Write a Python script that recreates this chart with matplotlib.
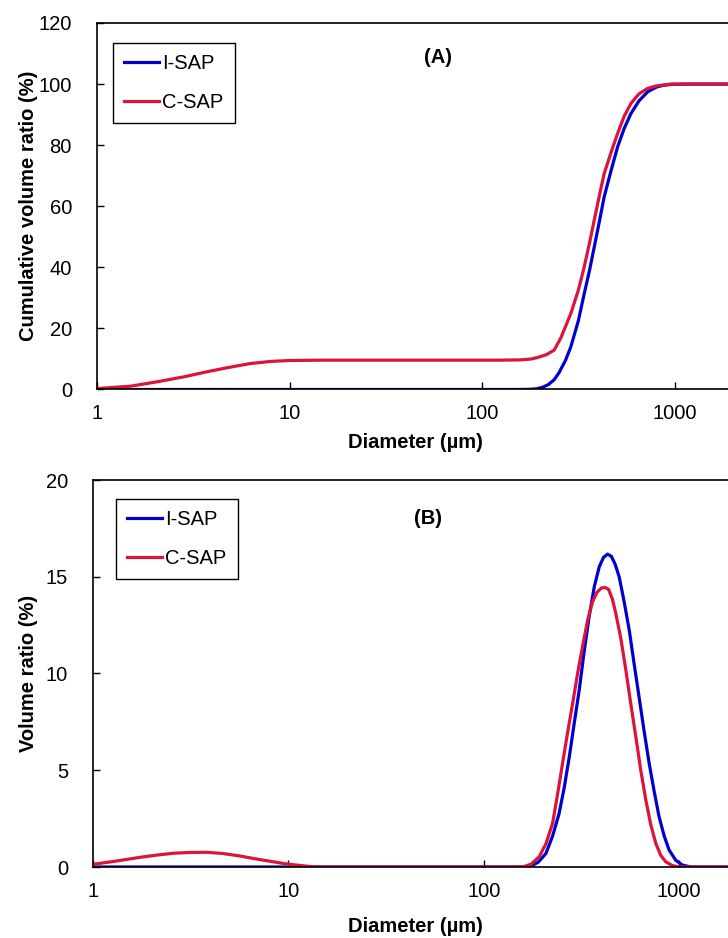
import matplotlib
matplotlib.use('Agg')
import matplotlib.pyplot as plt

plt.rcParams['font.family'] = ['Liberation Sans', 'DejaVu Sans']

# (A) cumulative volume ratio
d_cum_i = [1, 50, 150, 175, 190, 205, 220, 236, 250, 270, 288, 315, 338, 360, 381, 405, 429,
           465, 504, 545, 591, 650, 722, 800, 870, 955, 1200, 2000]
cum_i = [0, 0, 0, 0.05, 0.2, 0.7, 1.6, 3.2, 5.5, 9.5, 14.0, 22.5, 31.4, 39.0, 46.7, 55.0,
         63.1, 71.5, 79.5, 85.5, 90.4, 94.5, 97.5, 99.0, 99.6, 99.9, 100, 100]
d_cum_c = [1, 1.5, 2.04, 2.8, 3.72, 4.8, 6.25, 8.0, 10.1, 15, 50, 120, 158, 180, 194, 215,
           236, 256, 288, 315, 338, 360, 381, 405, 429, 465, 504, 545, 591, 650, 722, 800,
           955, 1200, 2000]
cum_c = [0.3, 1.1, 2.5, 4.1, 5.8, 7.2, 8.5, 9.2, 9.5, 9.6, 9.6, 9.6, 9.7, 10.0, 10.5, 11.4,
         12.9, 17.0, 24.9, 32.5, 40.2, 48.0, 55.5, 63.5, 70.7, 77.5, 83.9, 89.5, 93.7,
         96.8, 98.6, 99.4, 100, 100, 100]

# (B) volume ratio
d_vol_i = [1, 50, 150, 171, 190, 208, 225, 243, 258, 274, 290, 308, 326, 346, 368, 390, 410,
           430, 450, 470, 493, 523, 555, 588, 623, 662, 702, 745, 789, 838, 888, 960, 1038,
           1150, 2000]
vol_i = [0, 0, 0, 0.0, 0.25, 0.7, 1.6, 2.77, 4.1, 5.7, 7.4, 9.15, 11.1, 12.94, 14.5, 15.52,
         16.0, 16.17, 16.05, 15.65, 15.0, 13.7, 12.25, 10.5, 8.8, 7.0, 5.36, 3.9, 2.6, 1.6,
         0.88, 0.35, 0.1, 0.0, 0]
d_vol_c = [1, 1.3, 1.74, 2.1, 2.57, 3.1, 3.81, 4.6, 5.64, 6.8, 8.35, 9.6, 11.0, 12.5, 13.9,
           50, 140, 158, 175, 192, 208, 225, 238, 253, 268, 285, 302, 320, 340, 360, 380,
           400, 417, 435, 455, 474, 503, 533, 566, 600, 636, 675, 715, 759, 805, 854, 920,
           997, 2000]
vol_c = [0.14, 0.3, 0.5, 0.61, 0.71, 0.75, 0.76, 0.7, 0.57, 0.42, 0.27, 0.17, 0.1, 0.04, 0,
         0, 0, 0.0, 0.15, 0.53, 1.2, 2.26, 3.7, 5.36, 6.9, 8.46, 10.0, 11.39, 12.75, 13.7,
         14.2, 14.42, 14.45, 14.35, 13.85, 13.1, 11.8, 10.2, 8.4, 6.73, 5.0, 3.46, 2.2,
         1.22, 0.6, 0.27, 0.08, 0, 0]

blue = '#0000CC'
red = '#DC143C'
fs = 14.5

fig = plt.figure(figsize=(7.28, 9.38), dpi=100)
axA = fig.add_axes([97 / 728, 1 - 389.5 / 938, 636 / 728, 366.5 / 938])
axB = fig.add_axes([93 / 728, 1 - 867 / 938, 645 / 728, 387 / 938])

axA.plot(d_cum_i, cum_i, color=blue, lw=2.3, label='I-SAP')
axA.plot(d_cum_c, cum_c, color=red, lw=2.3, label='C-SAP')
axB.plot(d_vol_i, vol_i, color=blue, lw=2.3, label='I-SAP')
axB.plot(d_vol_c, vol_c, color=red, lw=2.3, label='C-SAP')

axA.set_ylim(0, 120)
axA.set_yticks([0, 20, 40, 60, 80, 100, 120])
axB.set_ylim(0, 20)
axB.set_yticks([0, 5, 10, 15, 20])

for ax, ylab, lx, xly, tag, tx, ty in [
        (axA, 'Cumulative volume ratio (%)', -0.093, -0.118, '(A)', 0.536, 0.907),
        (axB, 'Volume ratio (%)', -0.085, -0.128, '(B)', 0.519, 0.9)]:
    ax.set_xscale('log')
    ax.set_xlim(1, 2000)
    ax.set_xticks([1, 10, 100, 1000])
    ax.set_xticklabels(['1', '10', '100', '1000'])
    ax.minorticks_off()
    ax.tick_params(axis='x', direction='in', length=5, width=1, pad=10.5, labelsize=fs)
    ax.tick_params(axis='y', direction='in', length=5, width=1, pad=18, labelsize=fs)
    for s in ax.spines.values():
        s.set_linewidth(1.2)
    ax.set_xlabel('Diameter (µm)', fontsize=fs, fontweight='bold')
    ax.xaxis.set_label_coords(0.5, xly)
    ax.set_ylabel(ylab, fontsize=fs, fontweight='bold')
    ax.yaxis.set_label_coords(lx, 0.5)
    ax.text(tx, ty, tag, transform=ax.transAxes, fontsize=fs, fontweight='bold',
            ha='center', va='center')

legA = axA.legend(loc='upper left', bbox_to_anchor=(0.0252, 0.945), borderaxespad=0,
                  fontsize=fs, fancybox=False, framealpha=1, edgecolor='black',
                  handlelength=1.75, handletextpad=0.15, labelspacing=1.0, borderpad=0.55)
legB = axB.legend(loc='upper left', bbox_to_anchor=(0.0357, 0.951), borderaxespad=0,
                  fontsize=fs, fancybox=False, framealpha=1, edgecolor='black',
                  handlelength=1.75, handletextpad=0.15, labelspacing=1.0, borderpad=0.55)
for leg in (legA, legB):
    leg.get_frame().set_linewidth(1.0)

fig.savefig('out.png', dpi=100)
